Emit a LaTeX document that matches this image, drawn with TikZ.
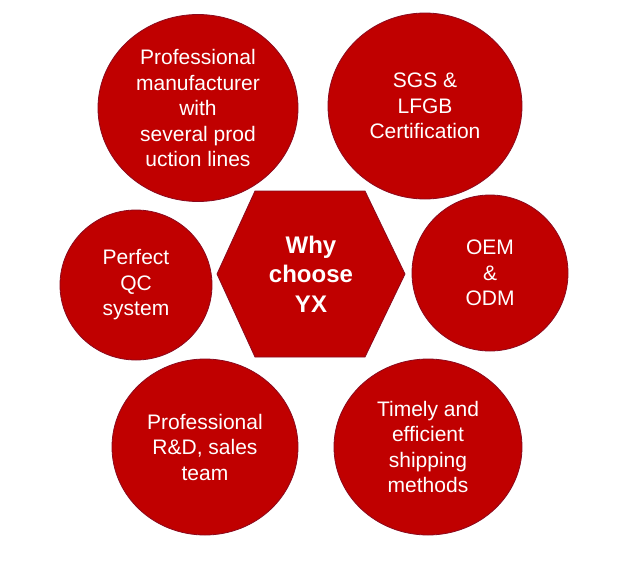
\documentclass[tikz,border=0pt]{standalone}
\usepackage{fontspec}
\setmainfont{Liberation Sans}
\usetikzlibrary{shapes.geometric}
\definecolor{yxred}{HTML}{C00000}
\definecolor{yxedge}{HTML}{8A0A1E}
\begin{document}
\begin{tikzpicture}[x=1pt,y=-1pt,
  bubble/.style={ellipse, fill=yxred, draw=yxedge, line width=0.8pt, inner sep=0pt,
    text=white, align=center, font=\fontsize{21}{25.5}\selectfont},
  hexlabel/.style={text=white, align=center, font=\fontsize{24}{29.5}\selectfont\bfseries, inner sep=0pt}]
\useasboundingbox[fill=white] (0,0) rectangle (640,571);
\node[bubble, minimum width=200pt, minimum height=187pt] (tl) at (198,108)
  {Professional\\manufacturer\\with\\several prod\\uction lines};
\node[bubble, minimum width=194pt, minimum height=186pt] (tr) at (425,106)
  {SGS \&\\LFGB\\Certification};
\node[bubble, minimum width=152pt, minimum height=150pt] (qc) at (136,285)
  {Perfect\\QC\\system};
\node[bubble, minimum width=156pt, minimum height=156pt] (oem) at (490,273)
  {OEM\\\&\\ODM};
\node[bubble, minimum width=186pt, minimum height=176pt] (bl) at (205,447)
  {Professional\\R\&D, sales\\team};
\node[bubble, minimum width=188pt, minimum height=176pt] (br) at (428,447)
  {Timely and\\efficient\\shipping\\methods};
\coordinate (h1) at (217,274);
\coordinate (h2) at (255,191);
\coordinate (h3) at (365,191);
\coordinate (h4) at (405,274);
\coordinate (h5) at (365,357);
\coordinate (h6) at (255,357);
\fill[yxred, draw=yxedge, line width=0.8pt] (h1) -- (h2) -- (h3) -- (h4) -- (h5) -- (h6) -- cycle;
\node[hexlabel] (hex) at (311,274) {Why\\choose\\YX};
\end{tikzpicture}
\end{document}
